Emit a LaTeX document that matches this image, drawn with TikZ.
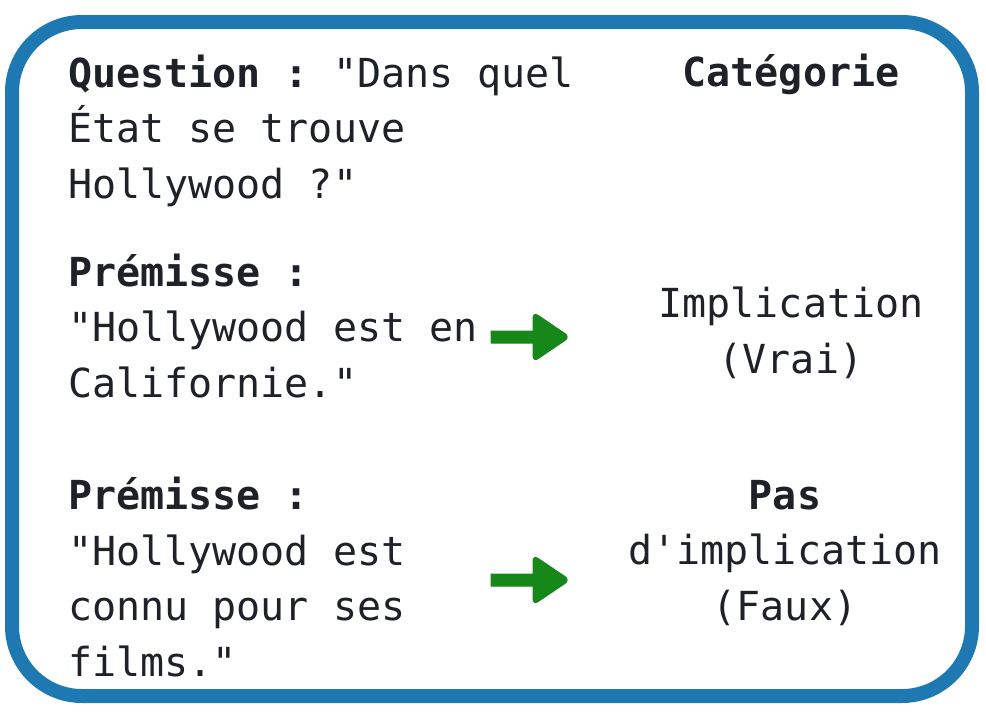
\documentclass[tikz,border=0pt]{standalone}
\usepackage{fontspec}
\setmonofont{DejaVu Sans Mono}
\definecolor{framecol}{RGB}{30,120,178}
\definecolor{arrowcol}{RGB}{22,136,26}
\definecolor{inkcol}{RGB}{30,34,40}
\tikzset{txt/.style = {font = \ttfamily\fontsize{40}{55.5}\selectfont, text = inkcol, inner sep = 0, anchor = base west, align = left}}
\tikzset{cat/.style = {txt, anchor = base, align = center}}
\tikzset{garrow/.style = {fill = arrowcol, draw = arrowcol, line width = 1, line join = round}}

\begin{document}
\begin{tikzpicture}[x = 1pt, y = -1pt]
    \useasboundingbox (0, 0) rectangle (986, 712);
    \draw [framecol, line width = 14, rounded corners = 70] (12, 22) rectangle (972, 696);
    % left column (anchored at the last line)
    \node [txt] (question) at (68, 198) {\textbf{Question :} "Dans quel\\État se trouve\\Hollywood ?"};
    \node [txt] (premA) at (68, 397) {\textbf{Prémisse :}\\"Hollywood est en\\Californie."};
    \node [txt] (premB) at (68, 676) {\textbf{Prémisse :}\\"Hollywood est\\connu pour ses\\films."};
    % right column
    \node [cat] (head) at (791, 86) {\textbf{Catégorie}};
    \node [cat] (catA) at (791, 373) {Implication\\(Vrai)};
    \node [cat] (catB) at (785, 620) {\textbf{Pas}\\d'implication\\(Faux)};
    % arrows
    \coordinate (arrA) at (491, 337);
    \coordinate (arrB) at (491, 580);
    \foreach \a in {arrA, arrB} {
        \draw [garrow] ([yshift = 6] \a) -- ++(42, 0) [rounded corners = 6] -- ++(0, -19)
            -- ++(37, 25) -- ++(-37, 25) [sharp corners] -- ++(0, -19)
            -- ([yshift = -6] \a) -- cycle;
    }
\end{tikzpicture}
\end{document}
